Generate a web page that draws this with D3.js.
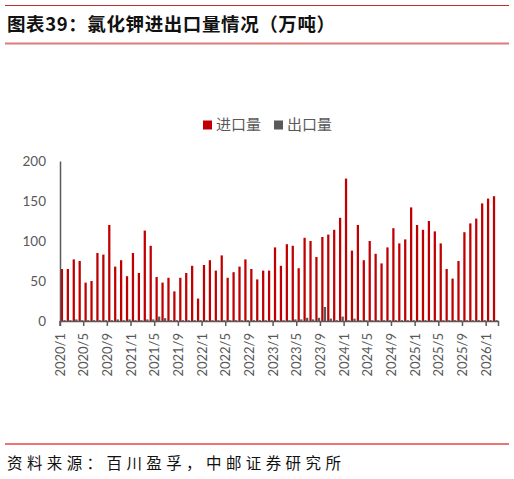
<!DOCTYPE html>
<html>
<head>
<meta charset="utf-8">
<script src="https://cdn.jsdelivr.net/npm/d3@7"></script>
<style>
  body { margin: 0; background: #fff; }
  svg { display: block; }
</style>
</head>
<body>
<div id="chart"></div>
<script>
// months 2020/1 .. 2026/2
const months = [];
for (let yr = 2020; yr <= 2026; yr++) {
    for (let m = 1; m <= 12; m++) {
        if (yr === 2026 && m > 2) break;
        months.push(yr + "/" + m);
    }
}

const importVals = [
    65, 65, 77, 75, 48, 50, 85, 83, 120, 68, 76, 56,
    85, 60, 113, 94, 55, 48, 54, 37, 54, 60, 69, 28,
    70, 76, 63, 82, 54, 61, 68, 77, 65, 52, 63, 63,
    92, 69, 96, 94, 66, 104, 100, 80, 105, 108, 114, 129,
    178, 88, 120, 76, 100, 84, 72, 92, 116, 97, 102, 142,
    120, 114, 125, 112, 97, 65, 53, 75, 111, 122, 128, 147,
    153, 156
];

const exportVals = [
    1, 1, 2, 1, 1, 1, 1, 1, 1, 2, 1, 2,
    1, 1, 2, 2, 5.5, 3.5, 1, 1, 1, 1, 1, 1,
    1, 1, 1, 1, 1, 1, 1, 1, 1, 1, 1, 1,
    1, 1, 1, 2, 2, 4, 2, 4, 17.5, 3, 1, 5.5,
    1, 3, 1, 1, 1, 1, 1, 1, 1, 1, 1, 1,
    1, 1, 1, 1, 1, 1, 1, 1, 1, 1, 1, 1,
    1, 1
];

const yTicks = [0, 50, 100, 150, 200];
const seriesNames = ["进口量", "出口量"];
const seriesColors = ["#c00000", "#595959"];

const W = 514, H = 479;
const plotLeft = 60, plotRight = 498, plotTop = 161, plotBottom = 321;

const svg = d3.select("#chart").append("svg")
    .attr("width", W)
    .attr("height", H);

// header and footer rules
svg.append("line").attr("x1", 5).attr("x2", 509).attr("y1", 5.5).attr("y2", 5.5)
    .attr("stroke", "#b83030").attr("stroke-width", 1);
svg.append("line").attr("x1", 5).attr("x2", 509).attr("y1", 43.5).attr("y2", 43.5)
    .attr("stroke", "#e07a7a").attr("stroke-width", 2);
svg.append("text")
    .attr("x", 7).attr("y", 31)
    .attr("font-family", "'Noto Sans CJK SC'")
    .attr("font-weight", "bold")
    .attr("font-size", 18.5)
    .attr("letter-spacing", 0.6)
    .attr("fill", "#111")
    .text("图表39：氯化钾进出口量情况（万吨）");

svg.append("line").attr("x1", 5).attr("x2", 509).attr("y1", 444).attr("y2", 444)
    .attr("stroke", "#e04848").attr("stroke-width", 1.5);
svg.append("text")
    .attr("x", 7).attr("y", 469)
    .attr("font-family", "'Noto Sans CJK SC'")
    .attr("font-size", 15.5)
    .attr("letter-spacing", 4.4)
    .attr("fill", "#111")
    .text("资料来源：百川盈孚，中邮证券研究所");

// scales
const x = d3.scaleBand().domain(months).range([plotLeft, plotRight]).padding(0);
const xs = d3.scaleBand().domain(seriesNames).range([0.8, x.bandwidth() - 0.3]).paddingInner(0.12);
const y = d3.scaleLinear().domain([0, 200]).range([plotBottom, plotTop]);

// bars
const rows = months.map((m, i) => ({ m, vals: [importVals[i], exportVals[i]] }));
const groups = svg.append("g").selectAll("g")
    .data(rows)
    .join("g")
    .attr("transform", d => `translate(${x(d.m)},0)`);

groups.selectAll("rect")
    .data(d => d.vals.map((v, k) => ({ v, k })))
    .join("rect")
    .attr("x", d => xs(seriesNames[d.k]))
    .attr("width", xs.bandwidth())
    .attr("y", d => y(d.v))
    .attr("height", d => y(0) - y(d.v))
    .attr("fill", d => seriesColors[d.k]);

// y axis
const yAxis = svg.append("g")
    .attr("transform", `translate(${plotLeft},0)`)
    .call(d3.axisLeft(y).tickValues(yTicks).tickSize(0).tickPadding(14));
yAxis.select(".domain").attr("stroke", "#595959").attr("stroke-width", 1.5);
yAxis.selectAll("text")
    .attr("font-family", "Lato")
    .attr("font-size", 13.5)
    .attr("fill", "#595959");

// x axis
const labelMonths = months.filter((m, i) => i % 4 === 0);
const xAxis = svg.append("g")
    .attr("transform", `translate(0,${plotBottom})`)
    .call(d3.axisBottom(x).tickValues(labelMonths).tickSizeOuter(0).tickSize(5));
xAxis.select(".domain").attr("stroke", "#595959").attr("stroke-width", 1.5);
xAxis.selectAll(".tick").attr("transform", d => `translate(${x(d)},0)`);
xAxis.selectAll(".tick line").attr("stroke", "#595959").attr("stroke-width", 1.5);
xAxis.selectAll(".tick text")
    .attr("font-family", "Lato")
    .attr("font-size", 13)
    .attr("fill", "#595959")
    .attr("text-anchor", "end")
    .attr("transform", "rotate(-90)")
    .attr("x", -12)
    .attr("y", 0)
    .attr("dy", "0.35em");

// legend
const legend = svg.append("g").attr("transform", "translate(203,125)");
const legendX = [0, 71];
seriesNames.forEach((name, i) => {
    const g = legend.append("g").attr("transform", `translate(${legendX[i]},0)`);
    g.append("rect").attr("x", 0).attr("y", -4.5).attr("width", 9).attr("height", 9)
        .attr("fill", seriesColors[i]);
    g.append("text").attr("x", 13).attr("y", 0).attr("dy", "0.35em")
        .attr("font-family", "'Noto Sans CJK SC'")
        .attr("font-size", 15)
        .attr("fill", "#595959")
        .text(name);
});
</script>
</body>
</html>
